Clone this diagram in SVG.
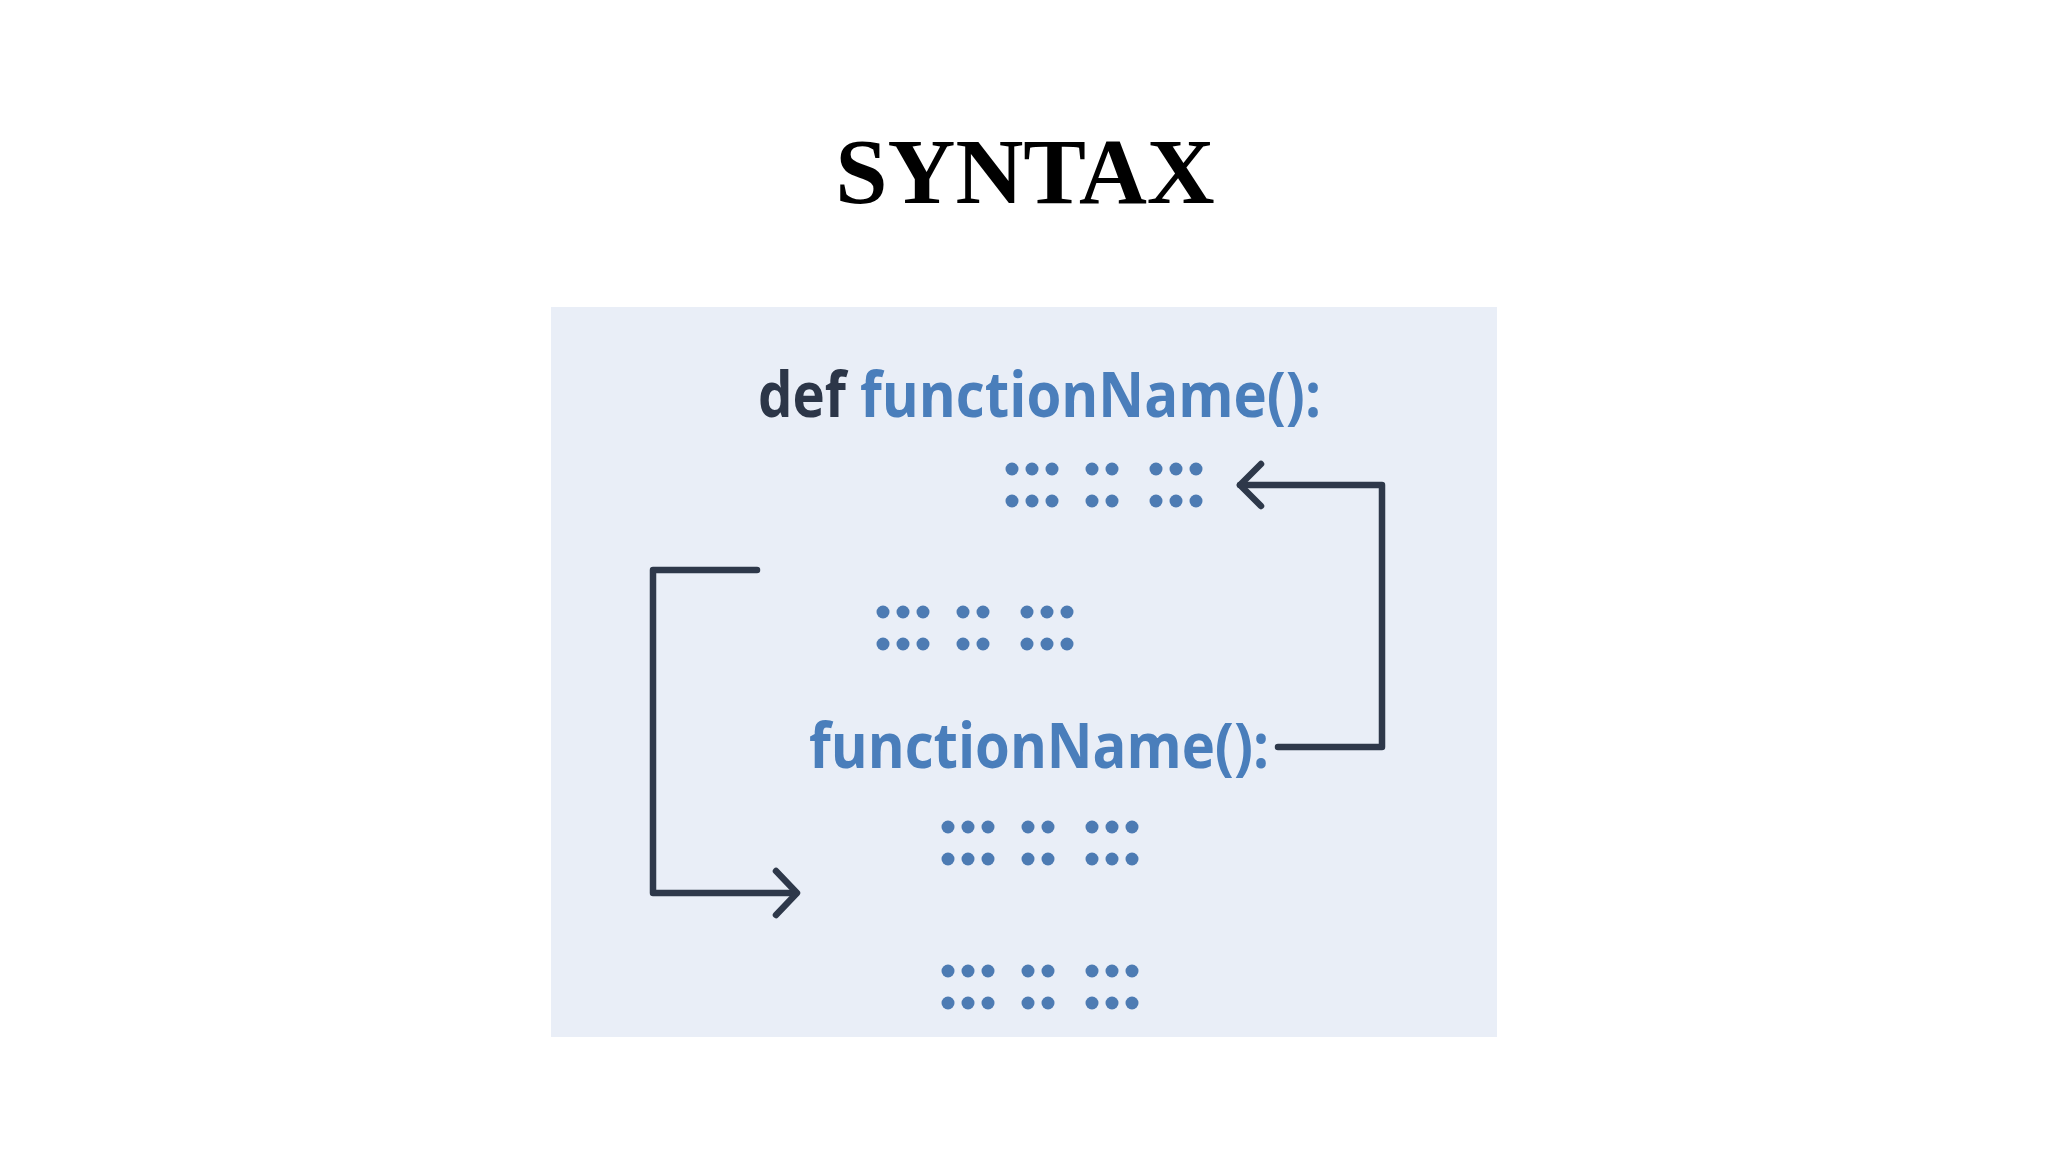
<svg xmlns="http://www.w3.org/2000/svg" width="2048" height="1152" viewBox="0 0 2048 1152">
  <defs>
    <style>
      .title { font-family: "Liberation Serif", "Times New Roman", serif; font-weight: 700; font-size: 94px; fill: #000; }
      .code { font-family: "Open Sans", "Noto Sans", sans-serif; font-weight: 700; font-size: 63px; }
      .kw { fill: #2c3648; }
      .fn { fill: #4a7ebb; }
      .dot { fill: #4d7bb3; }
      .conn { fill: none; stroke: #2e384a; stroke-width: 6.5; stroke-linecap: round; stroke-linejoin: round; }
    </style>
    <g id="dots">
      <circle class="dot" cx="0" cy="0" r="6.5"/>
      <circle class="dot" cx="20" cy="0" r="6.5"/>
      <circle class="dot" cx="40" cy="0" r="6.5"/>
      <circle class="dot" cx="80" cy="0" r="6.5"/>
      <circle class="dot" cx="100" cy="0" r="6.5"/>
      <circle class="dot" cx="144" cy="0" r="6.5"/>
      <circle class="dot" cx="164" cy="0" r="6.5"/>
      <circle class="dot" cx="184" cy="0" r="6.5"/>
      <circle class="dot" cx="0" cy="32" r="6.5"/>
      <circle class="dot" cx="20" cy="32" r="6.5"/>
      <circle class="dot" cx="40" cy="32" r="6.5"/>
      <circle class="dot" cx="80" cy="32" r="6.5"/>
      <circle class="dot" cx="100" cy="32" r="6.5"/>
      <circle class="dot" cx="144" cy="32" r="6.5"/>
      <circle class="dot" cx="164" cy="32" r="6.5"/>
      <circle class="dot" cx="184" cy="32" r="6.5"/>
    </g>
  </defs>
  <rect width="2048" height="1152" fill="#ffffff"/>
  <g id="title">
    <text class="title" x="1025" y="203" text-anchor="middle">SYNTAX</text>
  </g>
  <g id="panel">
    <rect x="551" y="307" width="946" height="730" fill="#e9eef7"/>
  </g>
  <g id="def-line">
    <text class="code kw" x="758" y="417" textLength="88" lengthAdjust="spacingAndGlyphs">def</text>
    <text class="code fn" x="860" y="417" textLength="461" lengthAdjust="spacingAndGlyphs">functionName():</text>
  </g>
  <g id="body-1"><use href="#dots" x="1012" y="469"/></g>
  <g id="body-2"><use href="#dots" x="883" y="612"/></g>
  <g id="call-line">
    <text class="code fn" x="809" y="768" textLength="460" lengthAdjust="spacingAndGlyphs">functionName():</text>
  </g>
  <g id="body-3"><use href="#dots" x="948" y="827"/></g>
  <g id="body-4"><use href="#dots" x="948" y="971"/></g>
  <g id="connectors">
    <path class="conn" d="M1278 747 H1382 V485 H1240"/>
    <path class="conn" d="M1261 464 L1240 485 L1261 506"/>
    <path class="conn" d="M757 570 H653 V893 H795"/>
    <path class="conn" d="M776 871 L797 893 L776 915"/>
  </g>
</svg>
